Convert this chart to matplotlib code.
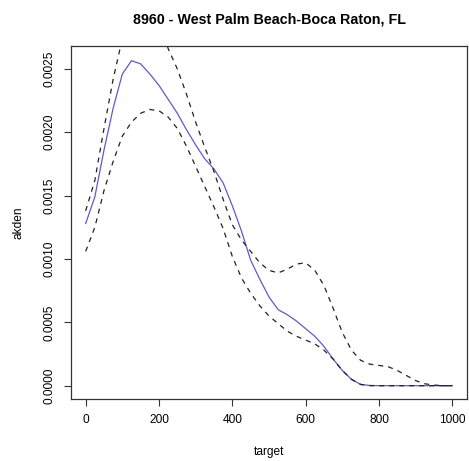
import numpy as np
import matplotlib
matplotlib.use("Agg")
from matplotlib import pyplot as plt

# density estimate and its band (values x 1e-3)
target = [0, 25, 50, 75, 100, 125, 150, 175, 200, 225, 250, 275, 300, 325, 350,
          375, 400, 425, 450, 475, 500, 525, 550, 575, 600, 625, 650, 675, 700,
          725, 750, 775, 800, 825, 850, 875, 900, 925, 950, 975, 1000]

akden = [1.28, 1.49, 1.86, 2.19, 2.46, 2.565, 2.54, 2.46, 2.37, 2.26, 2.15, 2.02,
         1.90, 1.79, 1.71, 1.60, 1.42, 1.22, 0.99, 0.84, 0.70, 0.60, 0.56, 0.51,
         0.45, 0.39, 0.31, 0.21, 0.12, 0.05, 0.01, 0.002, 0.0, 0.0, 0.0, 0.0,
         0.0, 0.0, 0.0, 0.0, 0.0]

upper = [1.38, 1.62, 2.03, 2.42, 2.74, 2.95, 3.05, 3.05, 2.92, 2.66, 2.50, 2.30,
         2.08, 1.88, 1.69, 1.47, 1.27, 1.15, 1.06, 0.97, 0.91, 0.89, 0.92, 0.96,
         0.97, 0.91, 0.79, 0.61, 0.42, 0.28, 0.20, 0.17, 0.16, 0.15, 0.12, 0.08,
         0.04, 0.015, 0.005, 0.0, 0.0]

lower = [1.06, 1.25, 1.54, 1.77, 1.97, 2.08, 2.15, 2.18, 2.17, 2.12, 2.03, 1.89,
         1.73, 1.57, 1.41, 1.24, 1.02, 0.85, 0.73, 0.63, 0.55, 0.49, 0.43, 0.39,
         0.36, 0.33, 0.28, 0.21, 0.12, 0.05, 0.01, 0.0, 0.0, 0.0, 0.0, 0.0,
         0.0, 0.0, 0.0, 0.0, 0.0]

xticks = [0, 200, 400, 600, 800, 1000]
yticks = [0.0, 0.0005, 0.0010, 0.0015, 0.0020, 0.0025]

plt.rcParams['font.family'] = ['Liberation Sans', 'DejaVu Sans']

fig = plt.figure(figsize=(4.69, 4.61), dpi=100)
ax = fig.add_axes([71 / 469, 1 - 399 / 461, 396 / 469, 353 / 461])

scale = 1e-3
ax.plot(target, np.array(akden) * scale, color='#5b5bcf', lw=0.9)
ax.plot(target, np.array(upper) * scale, color='#222222', lw=0.9, ls=(0, (4, 4)))
ax.plot(target, np.array(lower) * scale, color='#222222', lw=0.9, ls=(0, (4, 4)))

ax.set_xlim(-40, 1040)
ax.set_ylim(-0.000105, 0.002681)
ax.set_xticks(xticks)
ax.set_xticklabels([str(t) for t in xticks])
ax.set_yticks(yticks)
ax.set_yticklabels(['%.4f' % t for t in yticks], rotation=90, va='center')

ax.tick_params(axis='both', direction='out', length=5, width=0.8, labelsize=8.6,
               color='#333333', pad=6)
for s in ax.spines.values():
    s.set_linewidth(0.9)
    s.set_color('#333333')

ax.set_xlabel('target', fontsize=8.6, labelpad=14)
ax.set_ylabel('akden', fontsize=8.6, labelpad=14)
fig.text(269 / 469, 1 - 19 / 461, '8960 - West Palm Beach-Boca Raton, FL',
         ha='center', va='center', fontsize=10.3, fontweight='bold')

fig.savefig('out.png', dpi=100)
